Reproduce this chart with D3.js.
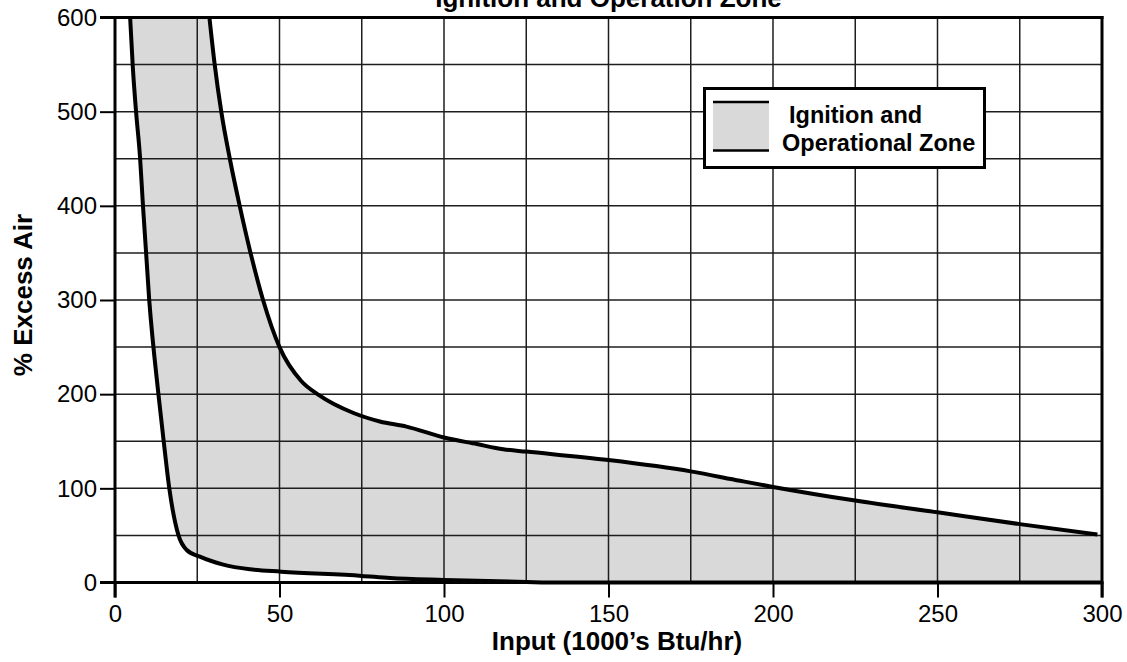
<!DOCTYPE html>
<html>
<head>
<meta charset="utf-8">
<script src="https://cdn.jsdelivr.net/npm/d3@7"></script>
<style>
  html, body { margin: 0; padding: 0; background: #fff; }
  svg { display: block; }
  text { font-family: "Liberation Sans", Arial, Helvetica, sans-serif; fill: #000; }
</style>
</head>
<body>
<svg id="chart" width="1127" height="662"></svg>
<script>
// ---------------- data ----------------
const titleText = "Ignition and Operation Zone";
const xLabel = "Input (1000\u2019s Btu/hr)";
const yLabel = "% Excess Air";
const legendLines = ["Ignition and", "Operational Zone"];

const xTicks = [0, 50, 100, 150, 200, 250, 300];
const yTicks = [0, 100, 200, 300, 400, 500, 600];
const xGrid = [25, 50, 75, 100, 125, 150, 175, 200, 225, 250, 275];
const yGrid = [50, 100, 150, 200, 250, 300, 350, 400, 450, 500, 550];

// upper (right) boundary of the zone: [input, % excess air]
const upperX = [28.7, 30.3, 32.3, 34.9, 37.9, 41.2, 45, 50, 56.6, 62, 72.5, 80.5, 88.6, 100, 110, 118, 125, 150, 175, 190, 200, 225, 250, 275, 298.6];
const upperY = [600, 550, 500, 450, 400, 350, 300, 250, 214, 199, 180, 171, 165.5, 154, 147, 141.5, 139, 130, 118, 108, 101.5, 87, 74.5, 62, 51];

// lower (left) boundary of the zone
const lowerX = [4.6, 5.4, 6.4, 7.6, 8.4, 10.4, 13.2, 14.8, 16.5, 19.3, 21.8, 25.8, 32.9, 41, 50.5, 75, 83.6, 100, 125, 135, 300];
const lowerY = [600, 548, 500, 452, 406, 300, 200, 150, 100, 50, 34.5, 27.4, 19, 14, 11.5, 7, 4.8, 2.7, 0.5, 0, 0];

// ---------------- chart ----------------
const svg = d3.select("#chart");
const x = d3.scaleLinear().domain([0, 300]).range([115, 1102]);
const y = d3.scaleLinear().domain([0, 600]).range([582.5, 17.5]);

const upper = upperX.map((v, i) => [v, upperY[i]]);
const lower = lowerX.map((v, i) => [v, lowerY[i]]);

const line = d3.line().x(d => x(d[0])).y(d => y(d[1])).curve(d3.curveMonotoneX);

const FILL = "#d9d9d9";

// fill: region under upper curve minus region under lower curve (evenodd)
const [xmin, xmax] = x.domain();
const [ymin, ymax] = y.domain();
const lastU = upper[upper.length - 1];
const pathU = line(upper) +
  `L${x(xmax)},${y(lastU[1])}L${x(xmax)},${y(ymin)}L${x(xmin)},${y(ymin)}L${x(xmin)},${y(ymax)}Z`;
const pathL = line(lower) +
  `L${x(xmin)},${y(ymin)}L${x(xmin)},${y(ymax)}Z`;
svg.append("path")
  .attr("d", pathU + pathL)
  .attr("fill", FILL)
  .attr("fill-rule", "evenodd");

// grid
const grid = svg.append("g").attr("stroke", "#1e1e1e").attr("stroke-width", 1.5);
grid.selectAll(".vg").data(xGrid).join("line")
  .attr("x1", d => x(d)).attr("x2", d => x(d))
  .attr("y1", y(ymax)).attr("y2", y(ymin));
grid.selectAll(".hg").data(yGrid).join("line")
  .attr("x1", x(xmin)).attr("x2", x(xmax))
  .attr("y1", d => y(d)).attr("y2", d => y(d));

// curves
svg.append("path").attr("d", line(upper)).attr("fill", "none")
  .attr("stroke", "#000").attr("stroke-width", 4).attr("stroke-linejoin", "round");
svg.append("path").attr("d", line(lower)).attr("fill", "none")
  .attr("stroke", "#000").attr("stroke-width", 4).attr("stroke-linejoin", "round");

// axes
const xAxis = d3.axisBottom(x).tickValues(xTicks).tickSize(15).tickPadding(7).tickFormat(d3.format("d"));
const yAxis = d3.axisLeft(y).tickValues(yTicks).tickSize(15).tickPadding(3).tickFormat(d3.format("d"));

const gx = svg.append("g").attr("transform", `translate(0,${y(ymin)})`).call(xAxis);
const gy = svg.append("g").attr("transform", `translate(${x(xmin)},0)`).call(yAxis);
[gx, gy].forEach(g => {
  g.select(".domain").remove();
  g.selectAll(".tick line").attr("stroke", "#000").attr("stroke-width", 2);
  g.selectAll(".tick text").attr("font-size", 24).attr("fill", "#000")
    .style("font-family", "'Liberation Sans', Arial, Helvetica, sans-serif");
});

// frame
const frame = svg.append("g").attr("stroke", "#000").attr("stroke-width", 3).attr("stroke-linecap", "butt");
frame.append("line").attr("x1", x(xmin)).attr("x2", x(xmin)).attr("y1", y(ymax) - 1.5).attr("y2", y(ymin) + 15);
frame.append("line").attr("x1", x(xmax)).attr("x2", x(xmax)).attr("y1", y(ymax) - 1.5).attr("y2", y(ymin) + 15);
frame.append("line").attr("x1", x(xmin) - 15).attr("x2", x(xmax) + 1.5).attr("y1", y(ymin)).attr("y2", y(ymin));
frame.append("line").attr("x1", x(xmin) - 15).attr("x2", x(xmax) + 1.5).attr("y1", y(ymax)).attr("y2", y(ymax));

// title (cut off at top in the original)
svg.append("text").attr("x", (x(xmin) + x(xmax)) / 2).attr("y", 7)
  .attr("text-anchor", "middle").attr("font-size", 26).attr("font-weight", "bold")
  .text(titleText);

// axis labels
svg.append("text").attr("x", 617).attr("y", 650)
  .attr("text-anchor", "middle").attr("font-size", 26).attr("font-weight", "bold")
  .text(xLabel);
svg.append("text").attr("transform", "rotate(-90)").attr("x", -295).attr("y", 32)
  .attr("text-anchor", "middle").attr("font-size", 26).attr("font-weight", "bold")
  .text(yLabel);

// legend
const lg = svg.append("g");
lg.append("rect").attr("x", 704.5).attr("y", 88.5).attr("width", 280).attr("height", 79)
  .attr("fill", "#fff").attr("stroke", "#000").attr("stroke-width", 3);
lg.append("rect").attr("x", 713).attr("y", 101).attr("width", 56).attr("height", 50).attr("fill", FILL);
lg.append("line").attr("x1", 713).attr("x2", 769).attr("y1", 102).attr("y2", 102)
  .attr("stroke", "#000").attr("stroke-width", 2.5);
lg.append("line").attr("x1", 713).attr("x2", 769).attr("y1", 150.5).attr("y2", 150.5)
  .attr("stroke", "#000").attr("stroke-width", 2.5);
lg.selectAll(".lt").data(legendLines).join("text")
  .attr("x", (d, i) => i === 0 ? 789 : 782)
  .attr("y", (d, i) => i === 0 ? 123 : 151)
  .attr("font-size", 23.5).attr("font-weight", "bold")
  .text(d => d);
</script>
</body>
</html>
